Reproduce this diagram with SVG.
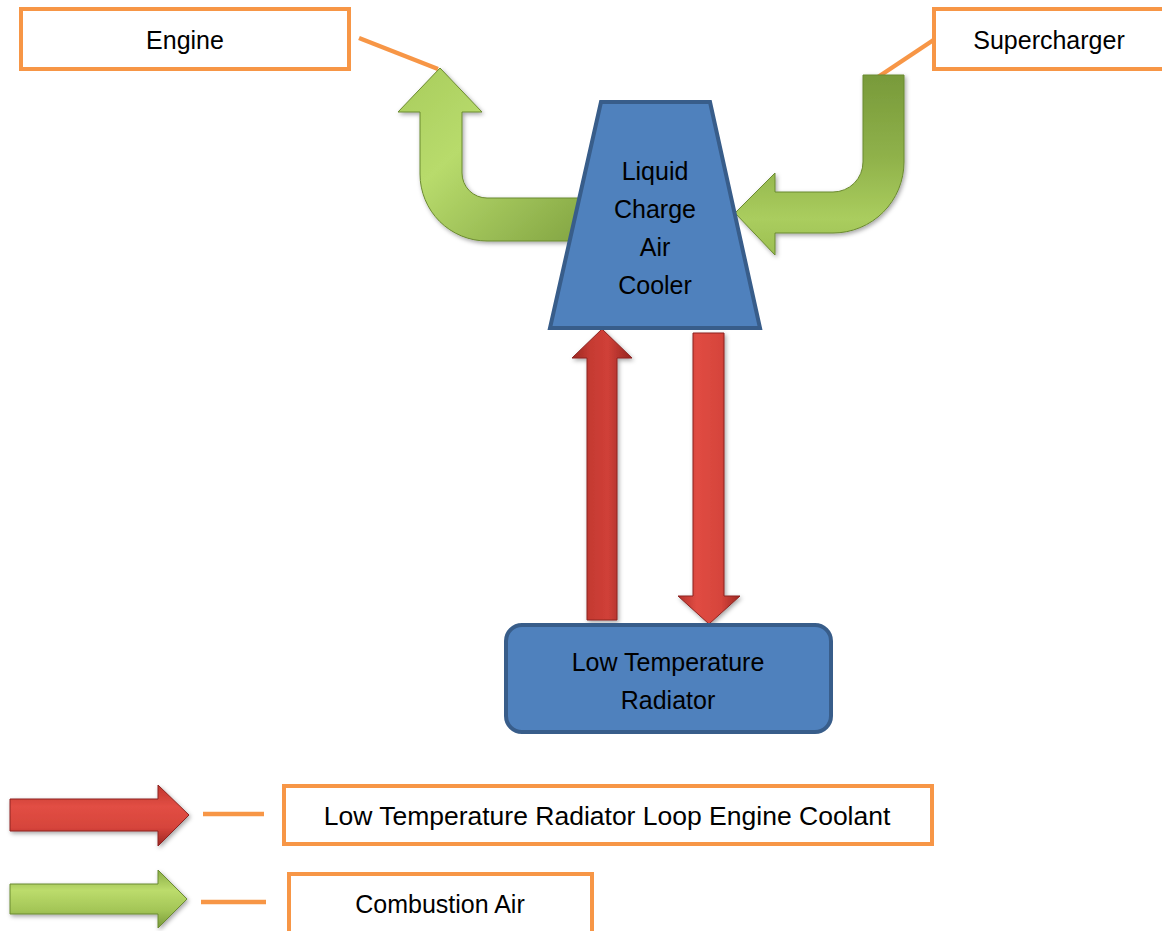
<svg xmlns="http://www.w3.org/2000/svg" width="1162" height="931" viewBox="0 0 1162 931">
<defs>
<style>
.lbl{fill:#fff;stroke:#f79646;stroke-width:4}
.lead{stroke:#f79646;stroke-width:4.5;fill:none}
.t{font-family:"Liberation Sans",Arial,sans-serif;font-size:25px;fill:#000;text-anchor:middle}
.blue{fill:#4f81bd;stroke:#385d8a;stroke-width:4}
.arr{stroke-width:1;filter:url(#sh)}
.red{stroke:#8c2420}
.grn{stroke:#6b8a30}
</style>
<filter id="sh" x="-20%" y="-20%" width="140%" height="140%">
<feDropShadow dx="1.5" dy="2" stdDeviation="2" flood-color="#000" flood-opacity="0.35"/>
</filter>
<linearGradient id="redV" x1="0" y1="0" x2="1" y2="0">
<stop offset="0" stop-color="#9c2722"/>
<stop offset="0.3" stop-color="#c53a32"/>
<stop offset="0.6" stop-color="#d04038"/>
<stop offset="1" stop-color="#952520"/>
</linearGradient>
<linearGradient id="redV2" x1="0" y1="0" x2="1" y2="0">
<stop offset="0" stop-color="#b3302a"/>
<stop offset="0.3" stop-color="#e04c43"/>
<stop offset="0.7" stop-color="#d6443b"/>
<stop offset="1" stop-color="#9c2722"/>
</linearGradient>
<linearGradient id="redH" x1="0" y1="0" x2="0" y2="1">
<stop offset="0" stop-color="#c0352e"/>
<stop offset="0.35" stop-color="#e24e44"/>
<stop offset="0.7" stop-color="#d6443b"/>
<stop offset="1" stop-color="#9c2722"/>
</linearGradient>
<linearGradient id="grnH" x1="0" y1="0" x2="0" y2="1">
<stop offset="0" stop-color="#8aad46"/>
<stop offset="0.35" stop-color="#bcdc6c"/>
<stop offset="0.7" stop-color="#a3c556"/>
<stop offset="1" stop-color="#78993a"/>
</linearGradient>
<linearGradient id="grnEng" x1="0" y1="0" x2="1" y2="1">
<stop offset="0" stop-color="#a8cc5c"/>
<stop offset="0.4" stop-color="#b8db6c"/>
<stop offset="1" stop-color="#82a442"/>
</linearGradient>
<linearGradient id="grnSup" x1="0" y1="0" x2="0" y2="1">
<stop offset="0" stop-color="#789a3a"/>
<stop offset="0.45" stop-color="#8fb14a"/>
<stop offset="0.8" stop-color="#aacd5e"/>
<stop offset="1" stop-color="#9cbf52"/>
</linearGradient>
</defs>

<g id="connectors">
<line class="lead" x1="359" y1="38" x2="438" y2="69"/>
<line class="lead" x1="938" y1="37" x2="878" y2="77"/>
<path id="flow-to-engine" class="arr grn" fill="url(#grnEng)" d="M585,198 L487,198 A25,25 0 0 1 462,173 L462,112 L482,112 L440,68 L398,112 L420,112 L420,174 A67,67 0 0 0 487,241 L585,241 Z"/>
<path id="flow-from-supercharger" class="arr grn" fill="url(#grnSup)" d="M863,75 L904,75 L904,162 A71,71 0 0 1 833,233 L775,233 L775,255 L735,213 L775,173 L775,192 L833,192 A30,30 0 0 0 863,162 Z"/>
<path id="coolant-up" class="arr red" fill="url(#redV)" d="M587,620 L587,358 L572,358 L602,329 L632,358 L617,358 L617,620 Z"/>
<path id="coolant-down" class="arr red" fill="url(#redV2)" d="M693,333 L724,333 L724,596 L740,596 L709,624 L678,596 L693,596 Z"/>
</g>

<g id="engine">
<rect class="lbl" x="21" y="9" width="328" height="60"/>
<text class="t" x="185" y="49">Engine</text>
</g>

<g id="supercharger">
<rect class="lbl" x="934" y="9" width="250" height="60"/>
<text class="t" x="1049" y="49">Supercharger</text>
</g>

<g id="charge-air-cooler">
<polygon class="blue" points="601,102 710,102 760,328 550,328"/>
<text class="t" x="655" y="180">Liquid</text>
<text class="t" x="655" y="218">Charge</text>
<text class="t" x="655" y="256">Air</text>
<text class="t" x="655" y="294">Cooler</text>
</g>

<g id="radiator">
<rect class="blue" x="506" y="625" width="325" height="107" rx="16" ry="16"/>
<text class="t" x="668" y="671">Low Temperature</text>
<text class="t" x="668" y="709">Radiator</text>
</g>

<g id="legend-coolant">
<path class="arr red" fill="url(#redH)" d="M10,799 L158,799 L158,785 L189,815 L158,846 L158,831 L10,831 Z"/>
<line class="lead" x1="203" y1="814" x2="264" y2="814"/>
<rect class="lbl" x="284" y="786" width="648" height="58"/>
<text class="t" x="607" y="825" style="font-size:26.5px">Low Temperature Radiator Loop Engine Coolant</text>
</g>

<g id="legend-air">
<path class="arr grn" fill="url(#grnH)" d="M10,884 L158,884 L158,870 L187,899 L158,928 L158,914 L10,914 Z"/>
<line class="lead" x1="201" y1="902" x2="266" y2="902"/>
<rect class="lbl" x="289" y="874" width="303" height="70"/>
<text class="t" x="440" y="913">Combustion Air</text>
</g>
</svg>
